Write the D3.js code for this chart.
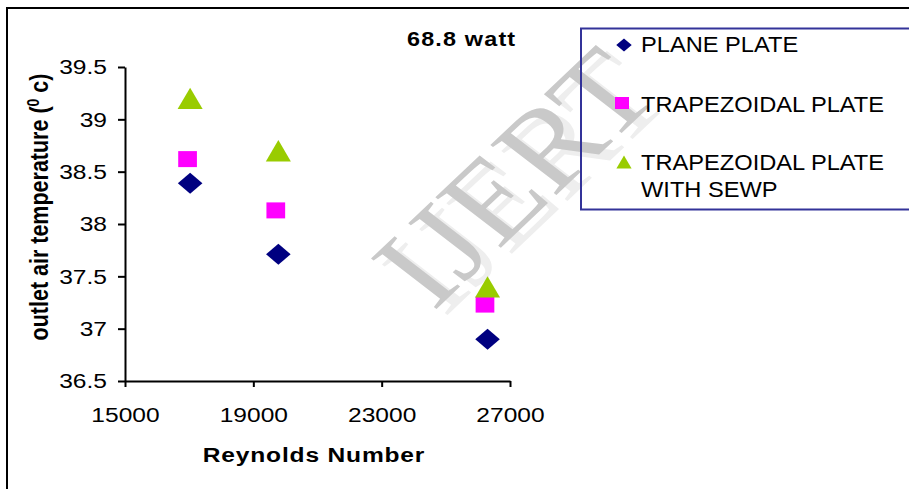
<!DOCTYPE html>
<html>
<head>
<meta charset="utf-8">
<script src="https://cdn.jsdelivr.net/npm/d3@7"></script>
<style>
  html, body { margin: 0; padding: 0; background: #fff; }
  svg { display: block; font-family: "Liberation Sans", Arial, sans-serif; }
</style>
</head>
<body>
<svg id="chart" width="909" height="489"></svg>
<script>
// Outlet air temperature vs Reynolds number at 68.8 W heat input
const reynolds = [17030, 19780, 26300];
const reynoldsTrap = [16950, 19700, 26220];
const planePlate = [38.39, 37.71, 36.90];
const trapezoidalPlate = [38.62, 38.13, 37.23];
const trapezoidalSewp = [39.2, 38.7, 37.4];
const seriesNames = ["PLANE PLATE", "TRAPEZOIDAL PLATE", "TRAPEZOIDAL PLATE WITH SEWP"];
const yTicks = [36.5, 37, 37.5, 38, 38.5, 39, 39.5];
const xTicks = [15000, 19000, 23000, 27000];

const K = 1.17; // horizontal stretch of glyphs and markers

const svg = d3.select("#chart");

const x = d3.scaleLinear().domain([15000, 27000]).range([125, 510]);
const y = d3.scaleLinear().domain([36.5, 39.5]).range([381, 67]);

// marker shapes (unstretched units)
function diamondPath(r) {
  const p = d3.path();
  p.moveTo(0, -r); p.lineTo(r, 0); p.lineTo(0, r); p.lineTo(-r, 0); p.closePath();
  return p.toString();
}
function trianglePath(w, h) {
  const p = d3.path();
  p.moveTo(0, -h / 2); p.lineTo(w / 2, h / 2); p.lineTo(-w / 2, h / 2); p.closePath();
  return p.toString();
}
function squarePath(s) {
  const p = d3.path();
  p.rect(-s / 2, -s / 2, s, s);
  return p.toString();
}

const series = [
  { name: seriesNames[0], xs: reynolds, ys: planePlate, color: "#000080",
    shape: diamondPath(10.5), legendShape: diamondPath(6.6) },
  { name: seriesNames[1], xs: reynoldsTrap, ys: trapezoidalPlate, color: "#FF00FF",
    shape: squarePath(16), legendShape: squarePath(12) },
  { name: seriesNames[2], xs: reynolds, ys: trapezoidalSewp, color: "#99CC00",
    shape: trianglePath(21.4, 21.3), legendShape: trianglePath(13, 13) }
];

// outer chart frame
svg.append("path")
  .attr("d", "M7,489 L7,8 L909,8")
  .attr("fill", "none").attr("stroke", "#000").attr("stroke-width", 2);

// diagonal watermark with a pale offset copy
function watermark(cx, cy, fill) {
  svg.append("g").attr("transform", `translate(${cx},${cy}) scale(${K},1) rotate(-48)`)
    .append("text")
    .attr("text-anchor", "middle").attr("dy", "0.35em")
    .style("font-family", "'Liberation Serif', 'DejaVu Serif', serif")
    .style("font-size", "115px")
    .attr("fill", fill)
    .text("IJERT");
}
watermark(524, 182, "#eeeeee");
watermark(513, 176, "#c9c9c9");

// axes
const xAxis = svg.append("g").attr("transform", "translate(0,381)")
  .call(d3.axisBottom(x).tickValues(xTicks).tickFormat(d3.format("d")).tickSize(6).tickSizeOuter(0).tickPadding(20));
const yAxis = svg.append("g").attr("transform", "translate(125,0)")
  .call(d3.axisLeft(y).tickValues(yTicks).tickFormat(d => String(d)).tickSize(7).tickSizeOuter(0).tickPadding(11));

[xAxis, yAxis].forEach(a => {
  a.select(".domain").attr("stroke", "#000").attr("stroke-width", 2);
  a.selectAll(".tick line").attr("stroke", "#000").attr("stroke-width", 2);
  a.selectAll(".tick text")
    .attr("fill", "#000")
    .style("font-family", "'Liberation Sans', Arial, sans-serif")
    .style("font-size", "21px");
});
xAxis.selectAll(".tick text").attr("dy", "0.71em")
  .attr("transform", `scale(${K},1)`);
yAxis.selectAll(".tick text").each(function () {
  const t = d3.select(this);
  const xx = +t.attr("x");
  t.attr("x", xx / K).attr("transform", `scale(${K},1)`);
});

// markers
series.forEach(s => {
  svg.append("g").selectAll("path")
    .data(s.xs.map((xv, i) => [xv, s.ys[i]]))
    .join("path")
    .attr("d", s.shape)
    .attr("fill", s.color)
    .attr("transform", d => `translate(${x(d[0])},${y(d[1])}) scale(${K},1)`);
});

// chart title
svg.append("g").attr("transform", `translate(407,46) scale(${K},1)`)
  .append("text")
  .style("font-weight", "bold").style("font-size", "20px").style("letter-spacing", "1px")
  .text("68.8 watt");

// axis titles
svg.append("g").attr("transform", `translate(314,462) scale(${K},1)`)
  .append("text").attr("text-anchor", "middle")
  .style("font-weight", "bold").style("font-size", "21px").style("letter-spacing", "0.7px")
  .text("Reynolds Number");

const yt = svg.append("g").attr("transform", `translate(48,207) scale(${K},1) rotate(-90)`)
  .append("text").attr("text-anchor", "middle")
  .style("font-weight", "bold").style("font-size", "21.5px");
yt.append("tspan").text("outlet air temperature (");
yt.append("tspan").attr("dy", "-8").style("font-size", "14px").text("0");
yt.append("tspan").attr("dy", "8").text(" c)");

// legend
svg.append("rect")
  .attr("x", 581).attr("y", 28.5).attr("width", 400).attr("height", 181)
  .attr("fill", "none").attr("stroke", "#333399").attr("stroke-width", 2);

const legendRows = [
  { marker: [624, 45], lines: [[52.3, seriesNames[0]]] },
  { marker: [622, 103], lines: [[111.7, seriesNames[1]]] },
  { marker: [624, 162], lines: [[170, "TRAPEZOIDAL PLATE"], [196.7, "WITH SEWP"]] }
];
legendRows.forEach((row, i) => {
  svg.append("path").attr("d", series[i].legendShape).attr("fill", series[i].color)
    .attr("transform", `translate(${row.marker[0]},${row.marker[1]}) scale(${K},1)`);
  row.lines.forEach(([by, txt]) => {
    svg.append("g").attr("transform", `translate(641,${by}) scale(1.1,1)`)
      .append("text").style("font-size", "21.5px").attr("fill", "#000").text(txt);
  });
});
</script>
</body>
</html>
